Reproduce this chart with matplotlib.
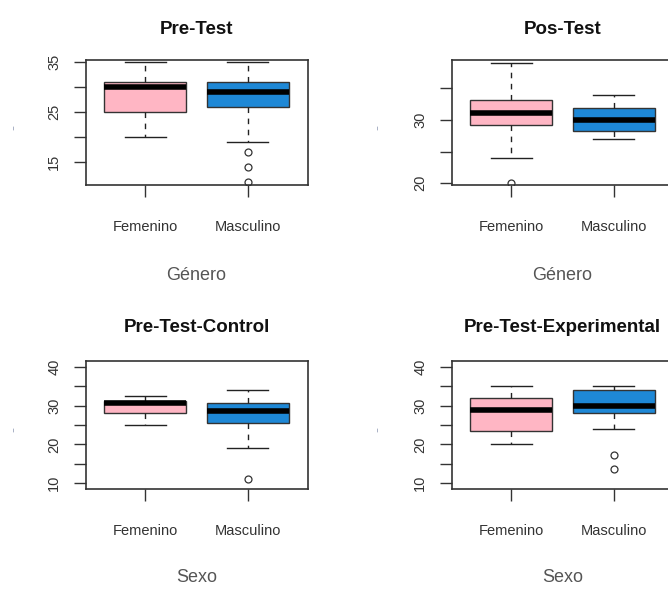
import matplotlib
matplotlib.use("Agg")
import matplotlib.pyplot as plt

plt.rcParams['font.family'] = ['Liberation Sans', 'DejaVu Sans']

W, H = 668, 589

categories = ["Femenino", "Masculino"]
titles = ["Pre-Test", "Pos-Test", "Pre-Test-Control", "Pre-Test-Experimental"]
xlabels = ["Género", "Género", "Sexo", "Sexo"]

# five-number summaries per panel: [Femenino, Masculino]
pre_low = [20, 19];   pre_q1 = [25, 26];   pre_med = [30, 29];   pre_q3 = [31, 31];   pre_high = [35, 35]
pre_out = [[], [17, 14, 11]]

pos_low = [24, 27];   pos_q1 = [29.2, 28.2]; pos_med = [31.1, 30]; pos_q3 = [33.2, 31.9]; pos_high = [39, 34]
pos_out = [[20], []]

ctl_low = [25, 19];   ctl_q1 = [28, 25.5]; ctl_med = [30.6, 28.5]; ctl_q3 = [31.1, 30.6]; ctl_high = [32.4, 34]
ctl_out = [[], [11]]

exp_low = [20, 24];   exp_q1 = [23.5, 28.2]; exp_med = [28.8, 30]; exp_q3 = [32, 34]; exp_high = [35, 35]
exp_out = [[], [17.3, 13.8]]

panels = [
    (pre_low, pre_q1, pre_med, pre_q3, pre_high, pre_out),
    (pos_low, pos_q1, pos_med, pos_q3, pos_high, pos_out),
    (ctl_low, ctl_q1, ctl_med, ctl_q3, ctl_high, ctl_out),
    (exp_low, exp_q1, exp_med, exp_q3, exp_high, exp_out),
]

yticks = [[15, 20, 25, 30, 35], [20, 25, 30, 35],
          [10, 15, 20, 25, 30, 35, 40], [10, 15, 20, 25, 30, 35, 40]]
yticklabels = [["15", "", "25", "", "35"], ["20", "", "30", ""],
               ["10", "", "20", "", "30", "", "40"], ["10", "", "20", "", "30", "", "40"]]
ylims = [(10.34, 35.34), (19.73, 39.48), (8.53, 41.47), (8.53, 41.47)]

colors = ["#FFB6C4", "#1E88D6"]

# pixel boxes (left, top, right, bottom)
boxes = [(85.5, 60, 307.5, 185), (451.5, 60, 673.5, 185),
         (85.5, 361, 307.5, 489), (451.5, 361, 673.5, 489)]
title_y = [30, 30, 328, 328]
xlab_y = [276, 276, 578, 578]

fig = plt.figure(figsize=(W / 100, H / 100), dpi=100)
fig.patch.set_facecolor("white")

for i, (l, t, r, b) in enumerate(boxes):
    ax = fig.add_axes([l / W, 1 - b / H, (r - l) / W, (b - t) / H])
    low, q1, med, q3, high, out = panels[i]
    stats = []
    for k, c in enumerate(categories):
        stats.append(dict(whislo=low[k], q1=q1[k], med=med[k], q3=q3[k],
                          whishi=high[k], fliers=out[k], label=c))
    bp = ax.bxp(stats, positions=[1, 2], widths=0.8, capwidths=0.4,
                patch_artist=True, showfliers=True,
                boxprops=dict(edgecolor="#333333", linewidth=1.0),
                whiskerprops=dict(color="#222222", linestyle=(0, (4, 4)), linewidth=1.0),
                capprops=dict(color="#222222", linewidth=1.0),
                medianprops=dict(color="black", linewidth=4.0, solid_capstyle="butt"),
                flierprops=dict(marker="o", markerfacecolor="none",
                                markeredgecolor="#333333", markersize=5, markeredgewidth=0.9))
    for patch, col in zip(bp["boxes"], colors):
        patch.set_facecolor(col)
    ax.set_xlim(0.42, 2.58)
    ax.set_ylim(*ylims[i])
    ax.set_yticks(yticks[i])
    ax.set_yticklabels(yticklabels[i], rotation=90, va="center", fontsize=10.5, color="#333333")
    ax.set_xticks([1, 2])
    ax.set_xticklabels(categories, fontsize=10.5, color="#333333")
    ax.tick_params(axis="both", length=8.5, width=1.0, color="#333333")
    ax.tick_params(axis="y", pad=9)
    ax.tick_params(axis="x", pad=17)
    for s in ax.spines.values():
        s.set_color("#333333")
        s.set_linewidth(1.2)
    cx = (l + r) / 2
    fig.text(cx / W, 1 - title_y[i] / H, titles[i], ha="center", va="center",
             fontsize=13.5, fontweight="bold", color="#111111")
    fig.text(cx / W, 1 - xlab_y[i] / H, xlabels[i], ha="center", va="center",
             fontsize=13, color="#555555")
    ylx = 13 if i % 2 == 0 else 377
    fig.text(ylx / W, 1 - ((t + b) / 2 + 5) / H, "-", rotation=90, ha="center", va="center",
             fontsize=11, color="#a8b0c4")

fig.savefig("out.png", dpi=100, facecolor="white")
